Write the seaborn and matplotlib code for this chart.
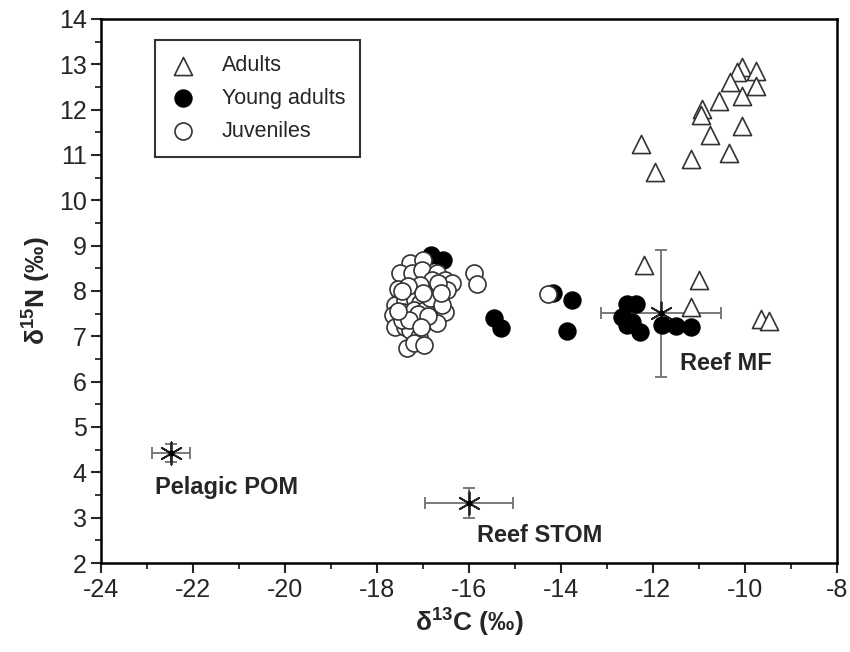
import numpy as np
import pandas as pd
import matplotlib.pyplot as plt
import seaborn as sns
from matplotlib.ticker import MultipleLocator

sns.set_style('ticks')
plt.rcParams['font.family'] = ['Liberation Sans Narrow', 'Liberation Sans', 'DejaVu Sans']
plt.rcParams['axes.unicode_minus'] = False
plt.rcParams['mathtext.default'] = 'regular'

# ---- data ----
adults_c = [-10.06, -10.17, -9.77, -10.34, -9.77, -10.06, -10.57, -10.93, -10.96, -10.06,
            -10.76, -12.27, -10.36, -11.18, -11.96, -12.19, -11.00, -11.17, -9.65, -9.48]
adults_n = [12.95, 12.84, 12.85, 12.60, 12.53, 12.31, 12.19, 12.01, 11.88, 11.64,
            11.44, 11.24, 11.04, 10.91, 10.63, 8.57, 8.24, 7.64, 7.38, 7.34]

young_c = [-16.83, -16.56, -16.92, -15.47, -15.31, -14.18, -13.77, -13.88,
           -12.56, -12.37, -12.68, -12.57, -12.46, -12.28, -11.81, -11.50, -11.18]
young_n = [8.80, 8.68, 8.28, 7.40, 7.19, 7.96, 7.80, 7.12,
           7.71, 7.71, 7.42, 7.25, 7.32, 7.10, 7.25, 7.23, 7.21]

juv_c = [-17.28, -17.00, -17.50, -17.25, -17.03, -16.70, -16.52, -16.38, -16.81, -17.07,
         -17.50, -17.28, -16.77, -16.49, -17.61, -17.39, -17.17, -17.07, -16.85, -16.52,
         -17.65, -17.43, -17.21, -16.96, -17.61, -17.39, -17.17, -16.96, -16.70, -17.28,
         -17.10, -17.35, -17.21, -16.99, -17.47, -16.85, -16.67, -17.55, -17.32, -17.12,
         -17.45, -17.00, -16.90, -17.30, -17.05, -16.60, -17.55, -16.62,
         -15.89, -15.83, -14.28]
juv_n = [8.61, 8.68, 8.39, 8.39, 8.46, 8.39, 8.24, 8.17, 8.24, 8.13,
         7.95, 7.95, 7.91, 8.02, 7.69, 7.80, 7.80, 7.73, 7.65, 7.54,
         7.47, 7.54, 7.58, 7.58, 7.21, 7.21, 7.36, 7.32, 7.29, 7.14,
         6.99, 6.74, 6.85, 6.81, 7.36, 7.84, 8.17, 8.05, 8.10, 7.50,
         8.00, 7.95, 7.45, 7.35, 7.20, 7.70, 7.55, 7.95,
         8.40, 8.15, 7.93]

src_names = ['Pelagic POM', 'Reef STOM', 'Reef MF']
src_c = [-22.48, -16.01, -11.83]
src_n = [4.43, 3.33, 7.51]
src_c_err = [0.41, 0.96, 1.3]
src_n_err = [0.2, 0.33, 1.4]
label_c = [-21.27, -14.46, -10.41]
label_n = [3.67, 2.60, 6.40]

adults = pd.DataFrame({'c': adults_c, 'n': adults_n})
young = pd.DataFrame({'c': young_c, 'n': young_n})
juv = pd.DataFrame({'c': juv_c, 'n': juv_n})

fig = plt.figure(figsize=(8.5, 6.52), dpi=100)
ax = fig.add_axes([0.119, 0.1365, 0.866, 0.8345])

# sources (mean +- sd)
ax.errorbar(src_c, src_n, xerr=src_c_err, yerr=src_n_err, fmt='none',
            ecolor='#707070', elinewidth=1.3, capsize=4, capthick=1.3, zorder=2)
ax.scatter(src_c, src_n, marker=(6, 2, 0), s=260, color='#222222', linewidths=1.3, zorder=3)
ax.scatter(src_c, src_n, marker='o', s=12, color='black', zorder=3)
for name, x, y in zip(src_names, label_c, label_n):
    ax.text(x, y, name, ha='center', va='center', fontsize=17, fontweight='bold',
            family=['Liberation Sans', 'DejaVu Sans'])

sns.scatterplot(data=adults, x='c', y='n', marker='^', s=170, facecolor='white',
                edgecolor='#333333', linewidth=1.2, label='Adults', ax=ax, zorder=4)
sns.scatterplot(data=young, x='c', y='n', marker='o', s=150, color='black',
                edgecolor='black', linewidth=1.0, label='Young adults', ax=ax, zorder=5)
sns.scatterplot(data=juv, x='c', y='n', marker='o', s=150, facecolor='white',
                edgecolor='#333333', linewidth=1.2, label='Juveniles', ax=ax, zorder=6)

ax.set_xlim(-24, -8)
ax.set_ylim(2, 14)
ax.xaxis.set_major_locator(MultipleLocator(2))
ax.xaxis.set_minor_locator(MultipleLocator(1))
ax.yaxis.set_major_locator(MultipleLocator(1))
ax.yaxis.set_minor_locator(MultipleLocator(0.5))
ax.tick_params(which='major', length=7, width=1.5, labelsize=18, direction='out')
ax.tick_params(which='minor', length=4, width=1.3, direction='out')
for s in ax.spines.values():
    s.set_linewidth(1.8)
    s.set_color('black')

ax.set_xlabel('δ$^{13}$C (‰)', fontsize=19, fontweight='bold', labelpad=4)
ax.set_ylabel('δ$^{15}$N (‰)', fontsize=19, fontweight='bold', labelpad=4)

leg = ax.legend(loc='upper left', bbox_to_anchor=(0.073, 0.961), borderaxespad=0,
                frameon=True, fancybox=False, handletextpad=1.2,
                borderpad=0.7, labelspacing=0.55, handlelength=1.2,
                prop={'family': ['Liberation Sans', 'DejaVu Sans'], 'size': 15.5})
leg.get_frame().set_edgecolor('black')
leg.get_frame().set_linewidth(1.5)

fig.savefig('out.png', dpi=100)
